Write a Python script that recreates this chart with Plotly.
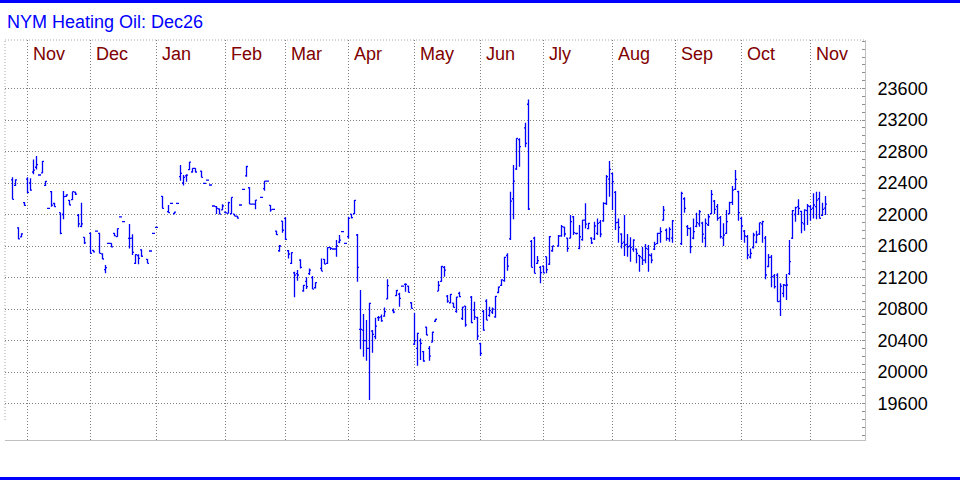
import plotly.graph_objects as go

# ---- data: weekday slot (0 = 1 Nov 2024), open/high/low/close per session ----
day_slot = [
    -5, -4, -3, -2, -1,
    0, 1, 2, 3, 4, 5, 6, 7, 8, 9, 11, 12, 13, 14, 15, 16, 17, 18, 19,
    21, 22, 23, 24, 25, 26, 27, 28, 29, 30, 31, 32, 34, 35, 36, 37, 38, 40, 41, 42,
    43, 45, 47, 48, 49, 50, 51, 52, 53, 54, 55, 56, 58, 59, 60, 61, 62, 63, 64, 65,
    66, 67, 68, 69, 70, 71, 72, 73, 74, 75, 76, 78, 79, 80, 81, 82, 83, 84, 85,
    86, 87, 88, 89, 90, 91, 92, 93, 94, 95, 96, 98, 99, 100, 101, 102, 103, 104, 105, 106,
    107, 108, 109, 110, 111, 112, 113, 114, 115, 116, 117, 118, 119, 120, 122, 123, 124, 125, 126, 127, 128,
    129, 130, 131, 132, 133, 134, 135, 136, 137, 138, 139, 140, 141, 142, 143, 144, 145, 146, 148, 149, 150,
    151, 152, 153, 154, 155, 156, 157, 158, 159, 160, 161, 162, 163, 164, 166, 167, 168, 169, 170, 171,
    172, 173, 174, 175, 177, 178, 179, 180, 181, 182, 183, 184, 185, 186, 187, 188, 189, 190, 191, 192, 193, 194,
    195, 196, 197, 198, 199, 200, 201, 202, 203, 204, 205, 206, 207, 208, 209, 210, 211, 212, 213, 214, 215,
    218, 219, 220, 221, 222, 223, 224, 225, 226, 227, 228, 229, 230, 231, 232, 233, 234, 235, 236, 237,
    238, 239, 240, 241, 242, 243, 244, 245, 246, 247, 248, 249, 250, 251, 252, 253, 254, 255, 256, 257, 258, 259, 260,
    261, 262, 263, 264, 265, 266,
]
opens = [
    22440, 22370, 21830, 21715, 22150,
    22450, 22400, 22540, 22600, 22502, 22530, 22370, 22078, 22290, 22140, 22023, 22000, 22230, 22180, 22190, 22285, 21990, 21850, 21710,
    21760, 21545, 21790, 21760, 21500, 21300, 21634, 21634, 21760, 21720, 21970, 21909, 21697, 21700, 21380, 21480, 21550, 21430, 21537, 21761,
    21837, 22230, 22036, 22142, 22010, 22142, 22480, 22400, 22490, 22570, 22540, 22586, 22550, 22396, 22438, 22375, 22108, 22100, 22070, 22060,
    22030, 22015, 22010, 22006, 21980, 22121, 22320, 22490, 22340, 22133, 22133, 22218, 22330, 22425, 22115, 22066, 21790, 21540, 21917,
    21950, 21540, 21380, 21260, 21250, 21420, 21030, 21150, 21250, 21200, 21070, 21316, 21430, 21380, 21583, 21562, 21562, 21650, 21782, 21634,
    21720, 22006, 22010, 21740, 20541, 20533, 20400, 20300, 20520, 20450, 20690, 20700, 20710, 20930, 20780, 20970, 20990, 21092, 21113, 21090, 20880,
    20355, 20300, 20400, 20260, 20570, 20300, 20380, 20645, 21028, 21150, 21330, 20965, 20880, 20875, 20770, 21000, 20680, 20838, 20950, 20787, 20690,
    20360, 20770, 20900, 20720, 20760, 20700, 21010, 21100, 21160, 21480, 21690, 22200, 22580, 22950, 23100, 23400, 21660, 21700, 21380, 21330,
    21346, 21465, 21370, 21540, 21600, 21730, 21840, 21700, 21700, 21970, 21760, 21570, 21680, 21930, 21820, 21700, 21690, 21760, 21900, 21920, 22140, 22450,
    22520, 22280, 21900, 21750, 21650, 21620, 21600, 21560, 21560, 21480, 21450, 21420, 21560, 21480, 21560, 21630, 21760, 21930, 21800, 21690, 21700,
    21630, 22200, 21846, 21820, 21700, 21850, 21880, 21890, 21700, 21870, 22010, 22170, 22100, 21960, 21700, 21760, 22010, 22154, 22320, 22290,
    21950, 21790, 21720, 21460, 21580, 21650, 21750, 21880, 21700, 21340, 21460, 21220, 21230, 20900, 21000, 21100, 21250, 21700, 22000, 22100, 22040, 21880, 22050,
    22100, 22080, 22100, 22200, 21990, 22080,
]
highs = [
    22472, 22447, 21837, 21761, 22159,
    22472, 22459, 22700, 22743, 22502, 22679, 22425, 22078, 22298, 22150, 22023, 22298, 22256, 22184, 22290, 22290, 22006, 22150, 21710,
    21773, 21549, 21790, 21769, 21507, 21359, 21634, 21634, 21765, 21824, 21970, 21909, 21879, 21748, 21494, 21494, 21558, 21435, 21537, 21761,
    21837, 22235, 22121, 22142, 22036, 22142, 22628, 22502, 22510, 22671, 22586, 22586, 22557, 22396, 22438, 22375, 22108, 22108, 22078, 22129,
    22036, 22163, 22218, 22006, 21980, 22121, 22320, 22616, 22345, 22133, 22184, 22218, 22425, 22425, 22121, 22066, 21795, 21612, 21917,
    21964, 21549, 21520, 21274, 21295, 21431, 21105, 21202, 21316, 21219, 21139, 21443, 21435, 21583, 21583, 21562, 21676, 21740, 21782, 21634,
    21972, 22006, 22184, 21752, 21041, 20736, 20660, 20880, 20533, 20690, 20711, 20732, 20821, 21177, 20808, 21041, 21007, 21092, 21126, 21096, 20885,
    20753, 20499, 20427, 20267, 20575, 20330, 20512, 20673, 21155, 21346, 21346, 20978, 20990, 20880, 20957, 21020, 20830, 20838, 20965, 20893, 20703,
    20372, 20787, 20923, 20830, 20821, 20965, 21084, 21177, 21465, 21507, 22290, 22629, 22967, 22967, 23166, 23462, 21676, 21718, 21473, 21346,
    21346, 21465, 21727, 21600, 21740, 21867, 21846, 21706, 21994, 21981, 21770, 21867, 21930, 22142, 21896, 21710, 21909, 21951, 21930, 22155, 22501, 22679,
    22531, 22298, 21951, 21761, 21993, 21752, 21710, 21685, 21570, 21486, 21591, 21625, 21613, 21507, 21655, 21769, 21837, 22108, 21824, 21837, 21930,
    22290, 22218, 21867, 21837, 21951, 22023, 22057, 21909, 21951, 22006, 22311, 22184, 22133, 21981, 21888, 22057, 22163, 22362, 22565, 22303,
    21972, 21803, 21740, 21570, 21769, 21795, 21896, 21922, 21727, 21498, 21486, 21244, 21253, 21126, 21117, 21244, 21676, 22057, 22099, 22193, 22049, 22066, 22133,
    22121, 22269, 22290, 22290, 22150, 22235,
]
lows = [
    22193, 22362, 21685, 21710, 22112,
    22269, 22303, 22510, 22573, 22502, 22523, 22362, 22078, 22100, 22100, 21748, 21939, 22226, 22121, 22184, 22248, 21837, 21837, 21625,
    21507, 21520, 21790, 21507, 21435, 21253, 21634, 21583, 21727, 21718, 21970, 21909, 21570, 21486, 21371, 21367, 21465, 21380, 21537, 21761,
    21837, 22078, 22023, 22142, 22006, 22142, 22430, 22370, 22417, 22565, 22535, 22535, 22472, 22396, 22438, 22375, 22108, 22006, 22006, 22057,
    22015, 22015, 22006, 21980, 21951, 22121, 22320, 22480, 22133, 22133, 22066, 22218, 22303, 22425, 22036, 22066, 21740, 21528, 21769,
    21676, 21443, 21371, 20948, 21160, 21316, 21020, 21054, 21232, 21054, 21062, 21282, 21371, 21371, 21550, 21562, 21465, 21634, 21782, 21634,
    21697, 21951, 22006, 21147, 20288, 20195, 20144, 19644, 20245, 20415, 20647, 20639, 20702, 20923, 20745, 20965, 20829, 21092, 21020, 21011, 20808,
    20343, 20080, 20152, 20131, 20470, 20144, 20377, 20639, 21028, 21147, 21211, 20880, 20872, 20821, 20753, 20948, 20660, 20576, 20618, 20660, 20406,
    20203, 20525, 20660, 20703, 20737, 20690, 20999, 21092, 21147, 21287, 21676, 21939, 22565, 22607, 22853, 22057, 21329, 21253, 21371, 21126,
    21253, 21253, 21359, 21528, 21592, 21718, 21718, 21528, 21697, 21740, 21745, 21558, 21668, 21824, 21812, 21625, 21676, 21740, 21710, 21909, 22121, 22226,
    22057, 21803, 21642, 21570, 21473, 21465, 21401, 21528, 21380, 21274, 21359, 21380, 21274, 21380, 21549, 21625, 21642, 21922, 21668, 21655, 21642,
    21612, 22023, 21727, 21507, 21685, 21837, 21845, 21642, 21583, 21854, 22006, 22006, 21922, 21697, 21600, 21752, 22006, 22121, 22311, 21922,
    21676, 21642, 21431, 21443, 21570, 21634, 21740, 21642, 21177, 21329, 21075, 21062, 20893, 20711, 20948, 20914, 21232, 21689, 21909, 21994, 21761, 21795, 21867,
    21922, 21951, 21939, 21951, 21981, 21994,
]
closes = [
    22193, 22440, 21690, 21755, 22115,
    22280, 22310, 22565, 22633, 22502, 22675, 22420, 22078, 22120, 22100, 21760, 22226, 22250, 22121, 22290, 22260, 21880, 21880, 21640,
    21507, 21525, 21790, 21507, 21435, 21325, 21634, 21590, 21730, 21820, 21970, 21909, 21697, 21520, 21490, 21443, 21470, 21380, 21537, 21761,
    21837, 22078, 22023, 22142, 22030, 22142, 22523, 22472, 22500, 22665, 22586, 22540, 22472, 22396, 22438, 22375, 22108, 22078, 22006, 22110,
    22020, 22150, 22218, 21980, 21955, 22121, 22320, 22610, 22133, 22133, 22184, 22218, 22425, 22425, 22060, 22066, 21745, 21600, 21800,
    21685, 21499, 21515, 21230, 21232, 21330, 21100, 21084, 21295, 21054, 21135, 21282, 21371, 21580, 21570, 21562, 21600, 21676, 21782, 21634,
    21951, 21960, 22180, 21329, 20541, 20400, 20300, 20872, 20478, 20584, 20690, 20650, 20766, 21096, 20760, 21035, 20935, 21092, 21113, 21011, 20808,
    20400, 20491, 20364, 20140, 20470, 20203, 20505, 20670, 21100, 21340, 21295, 20900, 20985, 20821, 20950, 20957, 20825, 20600, 20627, 20700, 20457,
    20237, 20533, 20660, 20780, 20800, 20960, 21080, 21170, 21456, 21346, 22171, 22425, 22967, 22861, 22904, 22070, 21329, 21253, 21414, 21261,
    21260, 21300, 21720, 21600, 21727, 21846, 21753, 21570, 21909, 21769, 21760, 21718, 21930, 21879, 21888, 21640, 21854, 21888, 21752, 22142, 22480, 22573,
    22417, 21896, 21837, 21634, 21613, 21591, 21583, 21676, 21507, 21465, 21422, 21570, 21486, 21422, 21621, 21761, 21782, 22057, 21697, 21812, 21920,
    22269, 22078, 21825, 21591, 21782, 21896, 22036, 21752, 21888, 21972, 22256, 22065, 21951, 21719, 21740, 21909, 22150, 22311, 22446, 22023,
    21854, 21727, 21486, 21507, 21740, 21740, 21896, 21909, 21232, 21456, 21211, 21084, 20893, 21092, 21105, 21105, 21401, 22049, 22087, 22078, 21896, 22057, 22108,
    22066, 22121, 22184, 21951, 22066, 22133,
]

month_slots = [0, 21, 43, 66, 86, 107, 129, 151, 172, 195, 216, 238, 261]
month_labels = ["Nov", "Dec", "Jan", "Feb", "Mar", "Apr", "May", "Jun",
                "Jly", "Aug", "Sep", "Oct", "Nov"]
price_ticks = [19600, 20000, 20400, 20800, 21200, 21600, 22000,
               22400, 22800, 23200, 23600]
title_text = "NYM Heating Oil: Dec26"

BLUE = "#0000FF"
FONT = "Liberation Sans, Arial, sans-serif"

fig = go.Figure()
fig.add_trace(go.Ohlc(
    x=day_slot, open=opens, high=highs, low=lows, close=closes,
    increasing=dict(line=dict(color=BLUE, width=1.3)),
    decreasing=dict(line=dict(color=BLUE, width=1.3)),
    tickwidth=0.5, hoverinfo="skip", showlegend=False,
))

annotations = [dict(
    text=title_text, xref="paper", yref="paper", x=0.0, y=1.044,
    xanchor="left", yanchor="middle", showarrow=False,
    font=dict(family=FONT, size=18, color=BLUE))]
for s, lab in zip(month_slots, month_labels):
    annotations.append(dict(
        text=lab, xref="x", yref="paper", x=s, y=0.964, xshift=3,
        xanchor="left", yanchor="middle", showarrow=False,
        font=dict(family=FONT, size=18, color="#800000")))

shapes = [
    # blue frame bars top and bottom
    dict(type="rect", xref="paper", yref="paper", x0=-0.006, x1=1.111,
         y0=1.0925, y1=1.1, fillcolor=BLUE, line=dict(width=0)),
    dict(type="rect", xref="paper", yref="paper", x0=-0.006, x1=1.111,
         y0=-0.1, y1=-0.0925, fillcolor=BLUE, line=dict(width=0)),
    # dotted top and left borders
    dict(type="line", xref="paper", yref="paper", x0=0, x1=1, y0=1, y1=1,
         line=dict(color="#a8a8a8", width=1, dash="1px,2px")),
    dict(type="line", xref="paper", yref="paper", x0=0, x1=0, y0=0.05, y1=1,
         line=dict(color="#a8a8a8", width=1, dash="1px,2px")),
]

fig.update_layout(
    width=960, height=480, autosize=False,
    margin=dict(l=5, r=95, t=40, b=40),
    paper_bgcolor="white", plot_bgcolor="white",
    annotations=annotations, shapes=shapes,
    showlegend=False,
    xaxis=dict(
        range=[-7.5, 279.1667], tickmode="array", tickvals=month_slots,
        showticklabels=False, ticks="", showgrid=True, gridcolor="#808080",
        griddash="1px,2px", gridwidth=1, zeroline=False,
        showline=True, linecolor="#c0c0c0", linewidth=1,
        rangeslider=dict(visible=False), fixedrange=True,
    ),
    yaxis=dict(
        side="right", range=[19137, 24216], tickmode="array",
        tickvals=price_ticks, ticktext=[str(v) for v in price_ticks],
        showgrid=True, gridcolor="#808080", griddash="1px,2px", gridwidth=1,
        zeroline=False, showline=True, linecolor="#c0c0c0", linewidth=1,
        ticks="inside", ticklen=3, tickcolor="#909090",
        minor=dict(dtick=100, tick0=19600, ticks="inside", ticklen=3,
                   tickcolor="#909090", showgrid=False),
        ticklabelstandoff=8,
        tickfont=dict(family=FONT, size=18, color="black"),
        fixedrange=True,
    ),
)

fig.write_html("out.html",
               config={"displayModeBar": False, "staticPlot": True},
               post_script="document.body.style.margin='0';document.body.style.padding='0';")
